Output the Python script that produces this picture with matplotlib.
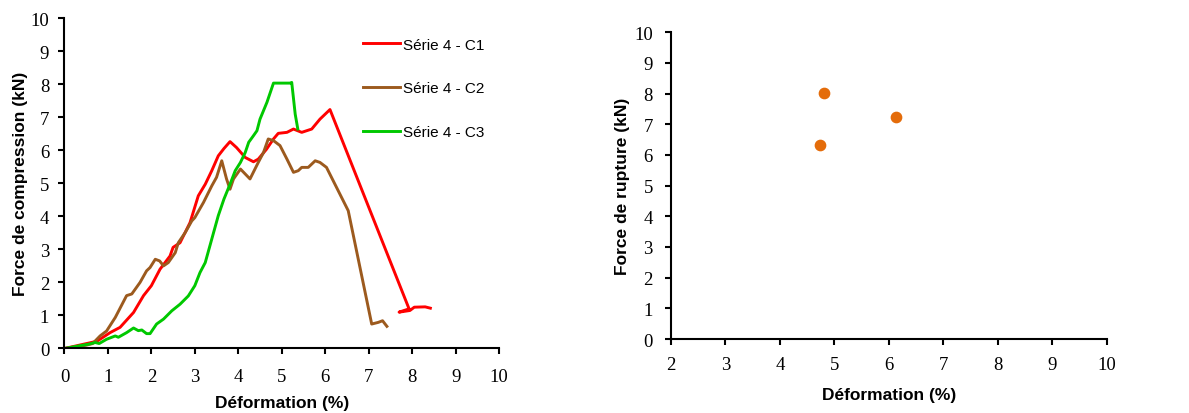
import matplotlib
matplotlib.use("Agg")
import matplotlib.pyplot as plt

# Série 4 - C1 (red)
c1_x = [0, 0.51, 0.75, 1.05, 1.28, 1.59, 1.82, 2.0, 2.2, 2.43, 2.5, 2.66, 2.89, 3.08, 3.24,
        3.39, 3.54, 3.67, 3.81, 3.96, 4.16, 4.35, 4.46, 4.65, 4.81, 4.92, 5.12, 5.27, 5.46,
        5.69, 5.88, 6.11, 7.93, 7.7, 7.95, 8.05, 8.3, 8.42]
c1_y = [0, 0.15, 0.22, 0.48, 0.64, 1.09, 1.6, 1.9, 2.4, 2.8, 3.06, 3.2, 3.81, 4.62, 4.97,
        5.38, 5.83, 6.05, 6.26, 6.08, 5.78, 5.65, 5.73, 6.03, 6.34, 6.51, 6.54, 6.64, 6.54,
        6.64, 6.94, 7.23, 1.2, 1.1, 1.15, 1.25, 1.26, 1.22]

# Série 4 - C2 (brown)
c2_x = [0, 0.5, 0.65, 0.82, 0.97, 1.17, 1.43, 1.55, 1.74, 1.89, 1.97, 2.09, 2.19, 2.28, 2.39,
        2.55, 2.62, 2.78, 2.93, 3.0, 3.2, 3.39, 3.5, 3.62, 3.73, 3.81, 3.89, 4.05, 4.16, 4.27,
        4.46, 4.58, 4.69, 4.81, 4.96, 5.12, 5.27, 5.38, 5.46, 5.61, 5.77, 5.88, 6.03, 6.53,
        7.07, 7.22, 7.32, 7.42]
c2_y = [0, 0.1, 0.15, 0.38, 0.53, 0.94, 1.6, 1.65, 2.0, 2.35, 2.45, 2.7, 2.65, 2.5, 2.6,
        2.9, 3.2, 3.51, 3.86, 3.96, 4.42, 4.92, 5.18, 5.68, 5.13, 4.82, 5.13, 5.43, 5.28, 5.13,
        5.63, 5.93, 6.34, 6.29, 6.14, 5.73, 5.33, 5.38, 5.48, 5.48, 5.68, 5.63, 5.48, 4.17,
        0.74, 0.79, 0.84, 0.67]

# Série 4 - C3 (green)
c3_x = [0, 0.55, 0.71, 0.8, 0.97, 1.17, 1.24, 1.43, 1.59, 1.7, 1.78, 1.89, 1.97, 2.12, 2.28,
        2.47, 2.66, 2.85, 3.0, 3.12, 3.24, 3.39, 3.54, 3.67, 3.81, 3.93, 4.05, 4.16, 4.24,
        4.35, 4.43, 4.5, 4.66, 4.81, 5.19, 5.23, 5.31, 5.37]
c3_y = [0, 0.13, 0.18, 0.15, 0.28, 0.38, 0.34, 0.48, 0.62, 0.54, 0.56, 0.45, 0.45, 0.74, 0.89,
        1.14, 1.34, 1.59, 1.9, 2.3, 2.6, 3.31, 4.02, 4.52, 4.97, 5.38, 5.63, 5.93, 6.24,
        6.44, 6.59, 6.94, 7.45, 8.03, 8.03, 8.05, 7.09, 6.64]

# rupture points
rup_x = [4.8, 6.13, 4.73]
rup_y = [8.03, 7.25, 6.33]

labels = ["Série 4 - C1", "Série 4 - C2", "Série 4 - C3"]
colors = ["#FF0000", "#9C5A1E", "#00C800"]

tickfont = {"family": "Liberation Serif", "size": 13.5}
labfont = {"family": "Liberation Sans", "size": 12.5, "weight": "bold"}


def style_axes(ax, xpad, ypad):
	ax.spines["top"].set_visible(False)
	ax.spines["right"].set_visible(False)
	for s in ["left", "bottom"]:
		ax.spines[s].set_linewidth(1.5)
		ax.spines[s].set_color("black")
	ax.tick_params(direction="out", length=4, width=1.5)
	ax.tick_params(axis="x", pad=xpad)
	ax.tick_params(axis="y", pad=ypad)
	for t in ax.get_xticklabels() + ax.get_yticklabels():
		t.set_fontfamily(tickfont["family"])
		t.set_fontsize(tickfont["size"])


fig = plt.figure(figsize=(11.89, 4.14), dpi=100)

# left: force-deformation curves
ax1 = fig.add_axes([0.0542, 0.1558, 0.3655, 0.7983])
for xs, ys, lab, col in zip([c1_x, c2_x, c3_x], [c1_y, c2_y, c3_y], labels, colors):
	ax1.plot(xs, ys, color=col, lw=2.1, label=lab, solid_joinstyle="round")
ax1.set_xlim(0, 10)
ax1.set_ylim(0, 10)
ax1.set_xticks(range(0, 11))
ax1.set_yticks(range(0, 11))
style_axes(ax1, 10, 7)
ax1.set_xlabel("Déformation (%)", fontdict=labfont, labelpad=7)
ax1.set_ylabel("Force de compression (kN)", fontdict=labfont, labelpad=2)
ax1.legend(loc="upper left", bbox_to_anchor=(0.674, 0.959), frameon=False,
	prop={"family": "Liberation Sans", "size": 11}, labelspacing=1.95,
	handlelength=2.4, handletextpad=0.2, borderaxespad=0)

# right: rupture force
ax2 = fig.add_axes([0.5643, 0.1787, 0.3667, 0.7409])
ax2.scatter(rup_x, rup_y, s=55, color="#E46C0A", zorder=3)
ax2.set_xlim(2, 10)
ax2.set_ylim(0, 10)
ax2.set_xticks(range(2, 11))
ax2.set_yticks(range(0, 11))
style_axes(ax2, 8, 9)
ax2.set_xlabel("Déformation (%)", fontdict=labfont, labelpad=10)
ax2.set_ylabel("Force de rupture (kN)", fontdict=labfont, labelpad=3)

fig.savefig("out.png", dpi=100)
